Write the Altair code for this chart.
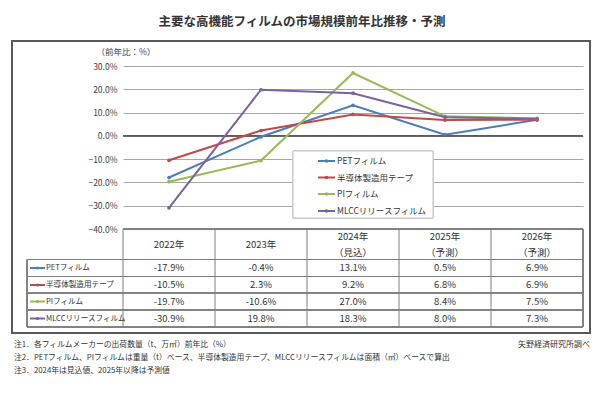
import altair as alt
import pandas as pd

years = ["2022年", "2023年", "2024年", "2025年", "2026年"]
year_notes = ["", "", "（見込）", "（予測）", "（予測）"]
series = ["PETフィルム", "半導体製造用テープ", "PIフィルム", "MLCCリリースフィルム"]
colors = ["#4A7EBB", "#BE4B48", "#98B954", "#7D60A0"]
pet = [-17.9, -0.4, 13.1, 0.5, 6.9]
semi = [-10.5, 2.3, 9.2, 6.8, 6.9]
pi = [-19.7, -10.6, 27.0, 8.4, 7.5]
mlcc = [-30.9, 19.8, 18.3, 8.0, 7.3]
y_ticks = [-40, -30, -20, -10, 0, 10, 20, 30]
zero_line = [0]
title_text = "主要な高機能フィルムの市場規模前年比推移・予測"
unit_text = "（前年比：%）"
notes = [
    "注1．各フィルムメーカーの出荷数量（t、万㎡）前年比（%）",
    "注2．PETフィルム、PIフィルムは重量（t）ベース、半導体製造用テープ、MLCCリリースフィルムは面積（㎡）ベースで算出",
    "注3．2024年は見込値、2025年以降は予測値",
]
source_text = "矢野経済研究所調べ"

values = [pet, semi, pi, mlcc]
rows = []
for s, vals in zip(series, values):
    for y, v in zip(years, vals):
        rows.append({"year": y, "series": s, "value": v})
df = pd.DataFrame(rows)
df["label"] = df["value"].map(lambda v: f"{v:.1f}%")
hdr = pd.DataFrame({"year": years, "note": year_notes})

FONT = "Noto Sans CJK JP"
W, H = 460, 163
LINE = "#7f7f7f"

band = alt.Scale(type="band", paddingInner=0, paddingOuter=0)
xc = alt.X("year:N", sort=years, scale=band, axis=None, bandPosition=0.5)
xe = alt.X("year:N", sort=years, scale=band, axis=None, bandPosition=0)
ys = alt.Y("value:Q", scale=alt.Scale(domain=[-40, 30], nice=False, zero=False),
           axis=alt.Axis(values=y_ticks, labelExpr="format(datum.value, '.1f') + '%'",
                         domain=False, ticks=False, grid=True, gridColor="#a6a6a6",
                         labelFont=FONT, labelFontSize=8.5, labelColor="#404040",
                         labelOverlap=False, labelPadding=6, title=None))
color = alt.Color("series:N", sort=series, scale=alt.Scale(domain=series, range=colors), legend=None)

layers = []
# outer frame
layers.append(alt.Chart(hdr).mark_rect(fillOpacity=0, stroke="#595959", strokeWidth=1.5).encode(
    x=alt.value(-111), x2=alt.value(467), y=alt.value(-25), y2=alt.value(267)))
# axis + grid via invisible points
layers.append(alt.Chart(df).mark_point(opacity=0).encode(x=xc, y=ys))
# zero line
layers.append(alt.Chart(pd.DataFrame({"value": zero_line})).mark_rule(color="#262626", strokeWidth=1.3).encode(
    y=ys, x=alt.value(0), x2=alt.value(W)))
# lines
layers.append(alt.Chart(df).mark_line(strokeWidth=2).encode(x=xc, y=ys, color=color))
layers.append(alt.Chart(df).mark_point(filled=True, size=14, opacity=1).encode(x=xc, y=ys, color=color))

# table grid
TOP, HB = H, 193.5
row_lines = [193.5, 210.5, 227, 244, 261]
row_centers = [202, 219, 235.5, 252.5]
layers.append(alt.Chart(hdr).mark_rule(color=LINE, strokeWidth=1).encode(
    x=xe, y=alt.value(TOP), y2=alt.value(261)))
layers.append(alt.Chart(hdr).mark_rule(color=LINE, strokeWidth=1).encode(
    x=alt.value(W), y=alt.value(TOP), y2=alt.value(261)))
layers.append(alt.Chart(hdr).mark_rule(color=LINE, strokeWidth=1).encode(
    x=alt.value(-96), y=alt.value(HB), y2=alt.value(261)))
layers.append(alt.Chart(hdr).mark_rule(color=LINE, strokeWidth=1).encode(
    x=alt.value(0), x2=alt.value(W), y=alt.value(TOP)))
for ry in row_lines:
    layers.append(alt.Chart(hdr).mark_rule(color=LINE, strokeWidth=1).encode(
        x=alt.value(-96), x2=alt.value(W), y=alt.value(ry)))

# header text
txt = dict(font=FONT, fontSize=9.5, color="#333333")
lab = dict(font=FONT, fontSize=7.6, color="#333333")
layers.append(alt.Chart(hdr).mark_text(**txt).transform_filter("datum.note == ''").encode(
    x=xc, y=alt.value(179), text="year:N"))
layers.append(alt.Chart(hdr).mark_text(**txt).transform_filter("datum.note != ''").encode(
    x=xc, y=alt.value(170.5), text="year:N"))
layers.append(alt.Chart(hdr).mark_text(**txt).transform_filter("datum.note != ''").encode(
    x=xc, y=alt.value(187), text="note:N"))

# table rows
for i, (s, c) in enumerate(zip(series, colors)):
    cy = row_centers[i]
    sub = alt.Chart(df).transform_filter(alt.datum.series == s)
    layers.append(sub.mark_text(**txt).encode(x=xc, y=alt.value(cy), text="label:N"))
    one = alt.Chart(pd.DataFrame({"series": [s]}))
    layers.append(one.mark_rule(color=c, strokeWidth=2).encode(
        x=alt.value(-93), x2=alt.value(-78), y=alt.value(cy)))
    layers.append(one.mark_point(filled=True, size=10, color=c, opacity=1).encode(
        x=alt.value(-85.5), y=alt.value(cy)))
    layers.append(one.mark_text(align="left", **lab).encode(
        x=alt.value(-77), y=alt.value(cy), text="series:N"))

# legend
layers.append(alt.Chart(hdr).mark_rect(fill="white", stroke="#c8c8c8", strokeWidth=1).encode(
    x=alt.value(170), x2=alt.value(310), y=alt.value(85), y2=alt.value(152)))
leg_y = [95, 111.5, 128, 145]
for i, (s, c) in enumerate(zip(series, colors)):
    one = alt.Chart(pd.DataFrame({"series": [s]}))
    layers.append(one.mark_rule(color=c, strokeWidth=2).encode(
        x=alt.value(195), x2=alt.value(212), y=alt.value(leg_y[i])))
    layers.append(one.mark_point(filled=True, size=12, color=c, opacity=1).encode(
        x=alt.value(203.5), y=alt.value(leg_y[i])))
    layers.append(one.mark_text(align="left", font=FONT, fontSize=8.5, color="#333333").encode(
        x=alt.value(214), y=alt.value(leg_y[i]), text="series:N"))

# title, unit, notes
meta = pd.DataFrame({"t": [title_text]})
layers.append(alt.Chart(meta).mark_text(font=FONT, fontSize=12.5, fontWeight="bold", color="#333333").encode(
    x=alt.value(179), y=alt.value(-44), text="t:N"))
layers.append(alt.Chart(pd.DataFrame({"t": [unit_text]})).mark_text(font=FONT, fontSize=8.5, color="#404040").encode(
    x=alt.value(3), y=alt.value(-14), text="t:N"))
note_y = [279, 292, 305]
for n, ny in zip(notes, note_y):
    layers.append(alt.Chart(pd.DataFrame({"t": [n]})).mark_text(font=FONT, fontSize=7.8, color="#333333", align="left").encode(
        x=alt.value(-109), y=alt.value(ny), text="t:N"))
layers.append(alt.Chart(pd.DataFrame({"t": [source_text]})).mark_text(font=FONT, fontSize=8, color="#333333", align="right").encode(
    x=alt.value(467), y=alt.value(279), text="t:N"))

chart = alt.layer(*layers).properties(
    width=W, height=H,
    autosize=alt.AutoSizeParams(type="none"),
    padding={"left": 115, "top": 58, "right": 9, "bottom": 159},
    background="white",
).configure_view(strokeWidth=0).configure_axis(labelOverlap=False)

chart.save("out.html", embed_options={"renderer": "svg", "actions": False})
